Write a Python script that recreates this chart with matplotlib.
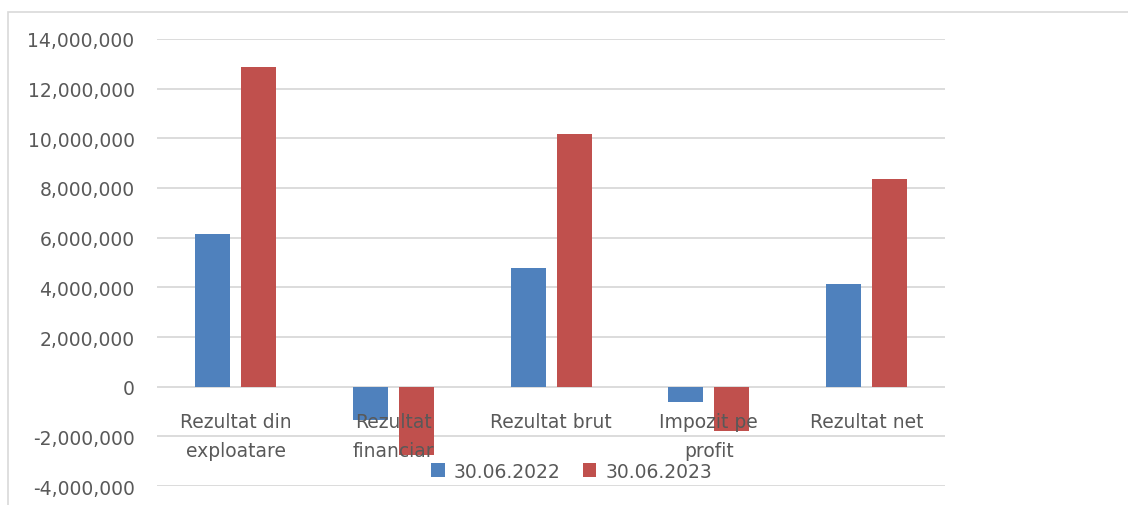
import matplotlib.pyplot as plt
import matplotlib.ticker as mticker
from matplotlib.patches import Rectangle
import numpy as np

categories = ['Rezultat din\nexploatare', 'Rezultat\nfinanciar', 'Rezultat brut',
              'Impozit pe\nprofit', 'Rezultat net']
val_2022 = [6130000, -1330000, 4760000, -620000, 4120000]
val_2023 = [12860000, -2740000, 10160000, -1770000, 8370000]
series_names = ['30.06.2022', '30.06.2023']

plt.rcParams['font.family'] = 'DejaVu Sans'
txt = '#595959'

fig = plt.figure(figsize=(11.28, 5.06), dpi=100)
ax = fig.add_axes([0.139, 0.0375, 0.699, 0.8835])

# chart frame
fig.patches.append(Rectangle((0.0071, -0.1), 1.2, 1.0742, transform=fig.transFigure,
                             fill=False, edgecolor='#d9d9d9', linewidth=1.2))

x = np.arange(len(categories))
w = 0.222
off = 0.146
b1 = ax.bar(x - off, val_2022, w, color='#4F81BD', label=series_names[0], zorder=3)
b2 = ax.bar(x + off, val_2023, w, color='#C0504D', label=series_names[1], zorder=3)

ax.set_xlim(-0.5, len(categories) - 0.5)
ax.set_ylim(-4000000, 14000000)
ax.yaxis.set_major_locator(mticker.MultipleLocator(2000000))
ax.yaxis.set_major_formatter(mticker.FuncFormatter(lambda v, p: f'{int(v):,}'))
ax.grid(axis='y', color='#d9d9d9', linewidth=1.3, zorder=0)
ax.set_axisbelow(True)

for s in ['top', 'right', 'left', 'bottom']:
    ax.spines[s].set_visible(False)

ax.set_xticks([])
ax.tick_params(axis='y', length=0, pad=16, labelsize=13.5, labelcolor=txt)

# category labels sit over the bars, like in the excel chart
for i, c in enumerate(categories):
    ax.annotate(c, xy=(i, 0), xycoords='data', xytext=(0, -18), textcoords='offset points',
                ha='center', va='top', fontsize=13.5, color=txt, linespacing=1.7, zorder=5)

fig.legend(handles=[b1, b2], loc='center', bbox_to_anchor=(0.507, 0.067), ncol=2,
           frameon=False, fontsize=13.5, labelcolor=txt, handlelength=0.7,
           handleheight=0.7, handletextpad=0.5, columnspacing=1.2)

fig.savefig('out.png', dpi=100)
